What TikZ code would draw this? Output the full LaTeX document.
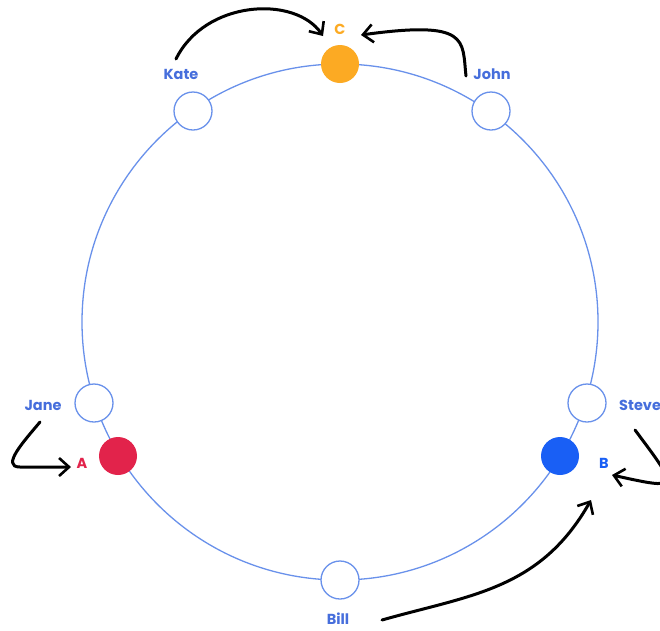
\documentclass[tikz,border=0pt]{standalone}
\usepackage{fontspec}
\setmainfont{Poppins}
\usetikzlibrary{arrows.meta}
\definecolor{ring}{RGB}{105,145,235}
\definecolor{lbl}{RGB}{70,110,220}
\definecolor{corange}{RGB}{252,170,35}
\definecolor{cred}{RGB}{226,35,75}
\definecolor{cblue}{RGB}{25,95,245}
\begin{document}
\begin{tikzpicture}[x=1pt,y=-1pt,
  empty/.style={circle,draw=ring,line width=1.3pt,fill=white,minimum size=38pt,inner sep=0pt},
  filled/.style={circle,minimum size=38pt,inner sep=0pt},
  name label/.style={text=lbl,font=\fontsize{14.5}{14.5}\selectfont\bfseries},
  hand/.style={black,line width=3pt,line cap=round,-{Straight Barb[length=10pt,width=18pt,line width=2.6pt]}}]
\useasboundingbox (0,0) rectangle (660,630);
\clip (0,0) rectangle (660,630);
\fill[white] (0,0) rectangle (660,630);
\node[circle,draw=ring,line width=1.3pt,minimum size=516pt,inner sep=0pt] (ring) at (340,322) {};
\node[empty] (kate) at (193,111) {};
\node[empty] (john) at (491,111) {};
\node[empty] (jane) at (94,403) {};
\node[empty] (steve) at (587,403) {};
\node[empty] (bill) at (340,580) {};
\node[filled,fill=corange] (c) at (340,64) {};
\node[filled,fill=cred] (a) at (118,456) {};
\node[filled,fill=cblue] (b) at (560,456) {};
\node[name label] (katel) at (181,74) {Kate};
\node[name label] (johnl) at (492,74) {John};
\node[name label] (janel) at (43,405) {Jane};
\node[name label,anchor=west,inner sep=0pt] (stevel) at (619,405) {Steve};
\node[name label] (billl) at (338,619) {Bill};
\node[name label,text=corange] (cl) at (340,29) {C};
\node[name label,text=cred] (al) at (82,463) {A};
\node[name label,text=cblue] (bl) at (604,463) {B};
\coordinate (k0) at (176,59);
\coordinate (k1) at (323,36);
\coordinate (j0) at (466,76);
\coordinate (j1) at (361,35);
\coordinate (n0) at (40,422);
\coordinate (n1) at (71,467);
\coordinate (s0) at (635,430);
\coordinate (s1) at (612,475);
\coordinate (b0) at (382,620);
\coordinate (b1) at (591,500);
\draw[hand] (k0) .. controls (205,0) and (295,-5) .. (k1);
\draw[hand] (j0) .. controls (462,40) and (470,20) .. (j1);
\draw[hand] (n0) .. controls (25,440) and (0,467) .. (20,467) -- (n1);
\draw[hand] (s0) .. controls (680,490) and (680,490) .. (s1);
\draw[hand] (b0) .. controls (470,595) and (540,590) .. (b1);
\end{tikzpicture}
\end{document}
